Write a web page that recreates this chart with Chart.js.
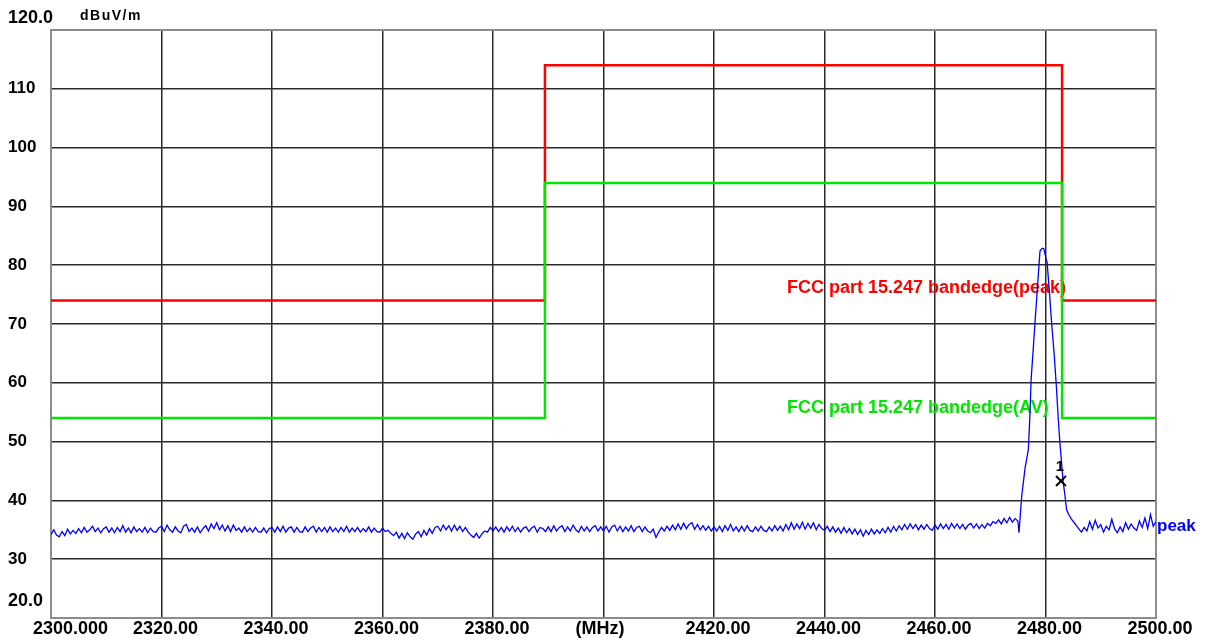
<!DOCTYPE html>
<html>
<head>
<meta charset="utf-8">
<title>Bandedge scan</title>
<script src="https://cdn.jsdelivr.net/npm/chart.js@4.4.0/dist/chart.umd.min.js"></script>
<style>
  html, body { margin: 0; padding: 0; background: #fff; }
  #scan { display: block; }
</style>
</head>
<body>
<canvas id="scan" width="1206" height="642"></canvas>
<script>
// axis ticks
const xTickValues = [2300, 2320, 2340, 2360, 2380, 2400, 2420, 2440, 2460, 2480, 2500];
const xTickLabels = ['2300.000', '2320.00', '2340.00', '2360.00', '2380.00', '(MHz)   ',
  '2420.00', '2440.00', '2460.00', '2480.00', '2500.00'];
const yTickLabels = ['20.0', '30', '40', '50', '60', '70', '80', '90', '100', '110', '120.0'];

// limit lines (FCC 15.247 bandedge)
const limitFreqs = [2300, 2389.4, 2389.4, 2483, 2483, 2500];
const peakLimit = [74, 74, 114, 114, 74, 74];
const avLimit = [54, 54, 94, 94, 54, 54];

// measured trace, 0.5 MHz sweep from 2300 to 2475
const sweepStart = 2300;
const sweepStep = 0.5;
const sweepLevels = [
  34.2, 35.0, 34.1, 33.8, 34.7, 34.0, 35.1, 34.3, 34.9, 34.4, 35.2, 34.5, 35.4, 34.6, 35.0, 35.6, 34.7, 35.3, 34.5, 35.2,
  35.5, 34.6, 35.3, 34.5, 35.4, 34.7, 35.7, 34.6, 35.3, 34.5, 35.5, 34.7, 35.2, 34.6, 35.4, 34.5, 35.3, 34.7, 34.6, 35.3,
  35.6, 34.7, 35.8, 35.0, 34.6, 35.5, 34.8, 34.5, 35.6, 35.9, 34.7, 35.3, 34.6, 35.5, 34.5, 35.2, 35.7, 34.8, 36.0, 35.2,
  36.2, 35.0, 35.8, 34.8, 35.7, 34.7, 35.8, 34.9, 35.3, 34.6, 35.5, 34.7, 35.3, 34.6, 35.4, 34.7, 34.6, 35.3, 34.5, 35.2,
  35.4, 34.6, 35.5, 34.7, 35.6, 34.6, 35.3, 35.5, 34.6, 35.4, 34.7, 34.6, 35.5, 34.7, 35.3, 35.6, 34.6, 35.4, 34.7, 35.4,
  34.6, 35.5, 34.7, 35.3, 34.6, 35.4, 34.7, 35.6, 34.6, 35.3, 34.7, 35.4, 34.6, 35.2, 34.7, 35.5, 34.6, 35.3, 34.7, 34.6,
  35.3, 34.7, 34.9, 34.4, 34.0, 34.6, 33.6, 34.4, 33.5, 34.5, 33.8, 33.4, 34.3, 34.7, 33.8, 34.9, 34.1, 35.2, 34.4, 35.4,
  35.6, 34.8, 35.8, 35.0, 35.7, 34.8, 35.8, 34.9, 35.6, 34.7, 35.4, 34.6, 34.1, 33.7, 34.4, 33.6, 34.3, 34.8, 34.6, 35.4,
  34.8, 35.5, 34.7, 35.4, 34.6, 35.5, 34.8, 35.6, 34.7, 35.4, 34.6, 35.3, 35.5, 34.7, 35.3, 35.6, 34.6, 35.4, 35.2, 34.7,
  35.5, 34.7, 35.7, 34.8, 35.4, 35.7, 34.7, 35.5, 34.8, 35.8, 35.0, 34.6, 35.6, 34.8, 35.5, 34.7, 35.4, 35.7, 34.8, 35.5,
  34.8, 35.6, 34.6, 35.5, 35.8, 34.8, 35.6, 34.7, 35.5, 34.8, 35.7, 34.7, 35.4, 35.6, 34.7, 35.5, 34.8, 34.5, 35.1, 33.7,
  34.6, 35.4, 34.8, 35.6, 34.9, 35.8, 35.0, 36.0, 35.1, 36.1, 35.2, 35.9, 36.2, 35.1, 35.9, 35.0, 35.7, 34.9, 35.6, 34.8,
  35.5, 34.8, 35.6, 34.7, 35.7, 34.9, 35.9, 34.8, 35.5, 34.7, 35.6, 34.8, 35.7, 34.9, 34.7, 35.5, 34.8, 35.6, 34.9, 34.7,
  35.5, 34.8, 35.7, 34.9, 35.6, 34.8, 35.9, 35.0, 36.2, 35.1, 36.0, 35.2, 36.3, 35.1, 36.1, 35.3, 36.2, 35.0, 35.9, 35.2,
  34.9, 35.6, 34.7, 35.5, 34.6, 35.3, 34.4, 35.4, 34.5, 35.2, 34.3, 35.1, 34.2, 35.0, 33.9, 34.9, 34.2, 35.1, 34.3, 35.0,
  34.4, 35.2, 34.5, 35.4, 34.6, 35.6, 34.8, 35.7, 35.0, 35.9, 35.1, 36.0, 35.2, 35.9, 35.0, 35.8, 35.1, 35.9, 35.2, 34.9,
  35.8, 35.1, 36.0, 35.2, 35.9, 35.1, 36.1, 35.3, 36.0, 35.2, 35.9, 35.1, 35.8, 36.1, 35.3, 36.0, 35.2, 35.9, 35.3, 36.1,
  35.7, 36.4, 36.1, 36.7, 36.0, 36.9, 36.2, 37.1, 36.3, 36.9, 36.5
];

// the emission around 2480 MHz and the tail up to 2500 MHz
const peakFreqs = [2475.2, 2475.7, 2476.3, 2476.9, 2477.2, 2477.4, 2477.8, 2478.1, 2478.6, 2479.0, 2479.4,
  2479.7, 2480.0, 2480.3, 2480.7, 2481.1, 2481.6, 2482.0, 2482.3, 2482.6, 2483.2, 2483.5, 2483.8, 2484.2,
  2484.7, 2485.2, 2485.6];
const peakLevels = [34.5, 40.8, 45.5, 48.7, 55.0, 60.6, 66.0, 70.3, 77.0, 82.4, 82.9,
  82.8, 81.5, 80.4, 75.5, 70.3, 64.5, 58.9, 54.0, 49.9, 43.1, 41.0, 38.5, 37.6,
  36.8, 36.2, 35.7];
const tailStart = 2486;
const tailLevels = [35.2, 34.6, 35.4, 34.8, 36.4, 35.1, 36.6, 35.3, 35.9, 34.6, 35.6, 35.0, 36.8, 35.2, 34.5,
  35.5, 34.7, 36.2, 35.1, 36.0, 35.3, 34.9, 36.5, 35.4, 37.0, 35.2, 37.6, 35.6, 36.4];

// marker 1
const markerFreq = 2482.8;
const markerLevel = 43.3;

const FONT = '"Liberation Sans", Arial, sans-serif';

const trace = [];
sweepLevels.forEach((v, i) => trace.push({ x: sweepStart + i * sweepStep, y: v }));
peakLevels.forEach((v, i) => trace.push({ x: peakFreqs[i], y: v }));
tailLevels.forEach((v, i) => trace.push({ x: tailStart + i * sweepStep, y: v }));

function limitPoints(levels) {
  return levels.map((v, i) => ({ x: limitFreqs[i], y: v }));
}

const overlay = {
  id: 'overlay',
  beforeDatasetsDraw(chart) {
    const { ctx, chartArea: a, scales: { x, y } } = chart;
    ctx.save();
    ctx.strokeStyle = '#8c8c8c';
    ctx.lineWidth = 2;
    ctx.strokeRect(a.left, a.top, a.right - a.left, a.bottom - a.top);

    ctx.font = 'bold 18px ' + FONT;
    ctx.textAlign = 'left';
    ctx.textBaseline = 'alphabetic';
    ctx.fillStyle = '#ff0000';
    ctx.fillText('FCC part 15.247 bandedge(peak)', x.getPixelForValue(2433.2), y.getPixelForValue(74) - 7);
    ctx.fillStyle = '#00e600';
    ctx.fillText('FCC part 15.247 bandedge(AV)', x.getPixelForValue(2433.2), y.getPixelForValue(54) - 5);
    ctx.restore();
  },
  afterDraw(chart) {
    const { ctx, chartArea: a, scales: { x, y } } = chart;
    ctx.save();
    ctx.fillStyle = '#000';
    ctx.textAlign = 'left';
    ctx.textBaseline = 'alphabetic';
    ctx.font = 'bold 18px ' + FONT;
    ctx.fillText(yTickLabels[yTickLabels.length - 1], 8, 23);
    ctx.fillText(yTickLabels[0], 8, 606);
    ctx.textBaseline = 'middle';
    ctx.fillText(xTickLabels[0], 33, 629);

    ctx.textBaseline = 'alphabetic';
    ctx.font = 'bold 14px ' + FONT;
    ctx.letterSpacing = '1.5px';
    ctx.fillText('dBuV/m', 80, 20);
    ctx.letterSpacing = '0px';

    ctx.font = 'bold 17px ' + FONT;
    ctx.fillStyle = '#0000ff';
    ctx.fillText('peak', a.right + 1, y.getPixelForValue(35) + 1.5);

    ctx.font = 'bold 15px ' + FONT;
    ctx.fillStyle = '#000';
    ctx.textAlign = 'center';
    ctx.fillText('1', x.getPixelForValue(markerFreq) - 1, y.getPixelForValue(markerLevel) - 10);
    ctx.restore();
  }
};

new Chart(document.getElementById('scan'), {
  type: 'line',
  data: {
    datasets: [
      {
        label: 'marker',
        type: 'scatter',
        data: [{ x: markerFreq, y: markerLevel }],
        pointStyle: 'crossRot',
        pointRadius: 7,
        pointBorderColor: '#000',
        pointBorderWidth: 2,
        order: 0,
      },
      {
        label: 'peak',
        data: trace,
        borderColor: '#0000ff',
        borderWidth: 1.3,
        pointRadius: 0,
        tension: 0,
        order: 1,
      },
      {
        label: 'FCC part 15.247 bandedge(AV)',
        data: limitPoints(avLimit),
        borderColor: '#00e600',
        borderWidth: 2.5,
        pointRadius: 0,
        order: 2,
      },
      {
        label: 'FCC part 15.247 bandedge(peak)',
        data: limitPoints(peakLimit),
        borderColor: '#ff0000',
        borderWidth: 2.5,
        pointRadius: 0,
        order: 3,
      },
    ],
  },
  options: {
    responsive: false,
    animation: false,
    devicePixelRatio: 1,
    layout: { padding: { left: 8, right: 50, top: 30, bottom: 0 } },
    plugins: {
      legend: { display: false },
      tooltip: { enabled: false },
    },
    scales: {
      x: {
        type: 'linear',
        min: 2300,
        max: 2500,
        afterBuildTicks: (scale) => { scale.ticks = xTickValues.map((v) => ({ value: v })); },
        afterFit: (scale) => { scale.height = 24; },
        grid: { color: '#2a2a2a', lineWidth: 1.5, drawTicks: false },
        border: { display: false },
        ticks: {
          padding: 0,
          labelOffset: 4,
          maxRotation: 0,
          autoSkip: false,
          color: '#000',
          font: { family: FONT, size: 18, weight: 'bold' },
          callback: (v, i) => (i === 0 ? '' : xTickLabels[i]),
        },
      },
      y: {
        min: 20,
        max: 120,
        afterFit: (scale) => { scale.width = 43; },
        grid: { color: '#2a2a2a', lineWidth: 1.5, drawTicks: false },
        border: { display: false },
        ticks: {
          stepSize: 10,
          padding: 0,
          crossAlign: 'far',
          color: '#000',
          font: { family: FONT, size: 17, weight: 'bold' },
          callback: (v, i, ticks) => (i === 0 || i === ticks.length - 1 ? '' : yTickLabels[i]),
        },
      },
    },
  },
  plugins: [overlay],
});
</script>
</body>
</html>
